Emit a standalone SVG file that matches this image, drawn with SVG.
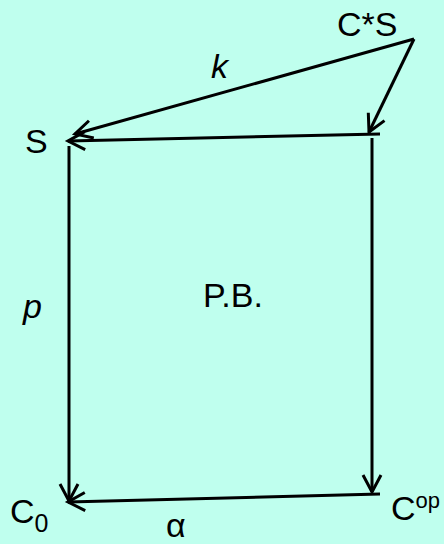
<svg xmlns="http://www.w3.org/2000/svg" width="444" height="544" viewBox="0 0 444 544">
<style>
.t{font-family:"Liberation Sans",Arial,sans-serif;font-size:34px;fill:#000}
.i{font-style:italic}
.c line{stroke:#000;stroke-width:3;fill:none;marker-end:url(#a)}
</style>
<defs>
<marker id="a" markerUnits="userSpaceOnUse" orient="auto" markerWidth="30" markerHeight="30" refX="0" refY="0" viewBox="-20 -15 30 30" overflow="visible">
<path d="M-17,-9 L0,0 L-17,9" fill="none" stroke="#000" stroke-width="3" stroke-linecap="butt"/>
</marker>
</defs>
<rect width="444" height="544" fill="#BFFFEE"/>
<g id="connectors" class="c">
<line x1="414" y1="39" x2="75" y2="134"/>
<line x1="414" y1="39" x2="369" y2="132"/>
<line x1="380" y1="134" x2="68" y2="141"/>
<line x1="69" y1="146" x2="69" y2="501"/>
<line x1="372" y1="138" x2="372" y2="492"/>
<line x1="380" y1="494" x2="68" y2="502"/>
</g>
<g id="CS"><text class="t" x="337" y="36">C*S</text></g>
<g id="S"><text class="t" x="25" y="153">S</text></g>
<g id="C0"><text class="t" x="10" y="523">C<tspan font-size="25" dy="9">0</tspan></text></g>
<g id="Cop"><text class="t" x="391" y="520">C<tspan font-size="22" dy="-12">op</tspan></text></g>
<g id="labels">
<text class="t i" x="211" y="78">k</text>
<text class="t i" x="23" y="318">p</text>
<text class="t" x="203" y="307">P.B.</text>
<text class="t" x="166" y="537" font-size="34">α</text>
</g>
</svg>
